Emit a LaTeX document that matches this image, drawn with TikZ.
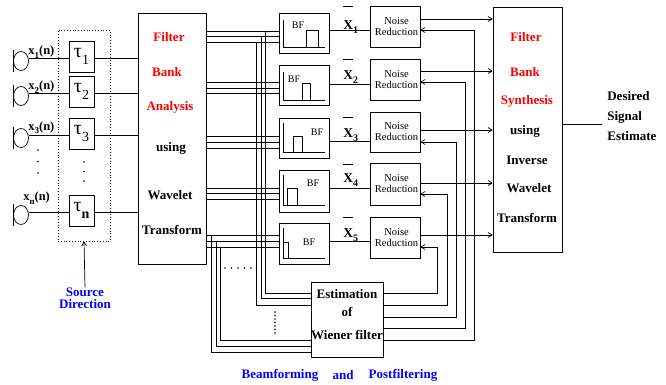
\documentclass[tikz,border=0pt]{standalone}
\usepackage{fontspec}
\setmainfont{Liberation Serif}
\usetikzlibrary{arrows.meta,shapes.geometric}
\definecolor{fred}{RGB}{255,0,0}
\definecolor{fblue}{RGB}{0,0,255}
\newcommand\tauT[1]{{\fontsize{20}{20}\selectfont τ}\raisebox{-7pt}{\fontsize{14}{14}\selectfont #1}}
\newcommand\xlab[1]{\textbf{x}\raisebox{-4pt}{\fontsize{9}{9}\selectfont\bfseries #1}\textbf{(n)}}
\newcommand\xbar[1]{\textbf{X}\raisebox{-4pt}{\fontsize{10}{10}\selectfont\bfseries #1}}
\begin{document}
\begin{tikzpicture}[x=1pt,y=-1pt,line width=0.7pt,
  box/.style={draw,rectangle,inner sep=0pt},
  bt/.style={font=\fontsize{13}{14}\selectfont\bfseries,inner sep=0pt},
  lt/.style={font=\fontsize{12.5}{13}\selectfont,inner sep=0pt},
  rt/.style={font=\fontsize{10.5}{11}\selectfont,inner sep=0pt,align=center},
  bft/.style={font=\fontsize{10}{10}\selectfont,inner sep=0pt},
  xt/.style={font=\fontsize{13.5}{13}\selectfont,inner sep=0pt},
  arr/.style={-{Straight Barb[length=4pt,width=5pt]}},
  dotc/.style={fill,circle,inner sep=0pt,minimum size=1.8pt},
  mic/.style={draw,ellipse,inner sep=0pt,minimum width=15pt,minimum height=19pt}]
\useasboundingbox (0,0) rectangle (666,385);

% ---------- main boxes ----------
\node[box,minimum width=68pt,minimum height=251pt] (ana) at (172,138.5) {};
\node[box,minimum width=69pt,minimum height=245pt] (syn) at (527.5,129.5) {};
\node[box,minimum width=72pt,minimum height=75pt] (wie) at (347,319.5) {};
\node[draw,dotted,line width=0.8pt,rectangle,inner sep=0pt,minimum width=52pt,minimum height=211pt] (db) at (84,135.5) {};

% analysis text
\node[bt,text=fred] (a1) at (169,37) {Filter};
\node[bt,text=fred] (a2) at (167,72) {Bank};
\node[bt,text=fred] (a3) at (170,107) {Analysis};
\node[bt] (a4) at (171,148) {using};
\node[bt] (a5) at (170,195) {Wavelet};
\node[bt] (a6) at (172,230) {Transform};

% synthesis text
\node[bt,text=fred] (s1) at (526,37) {Filter};
\node[bt,text=fred] (s2) at (525,72) {Bank};
\node[bt,text=fred] (s3) at (527,101) {Synthesis};
\node[bt] (s4) at (525,131) {using};
\node[bt] (s5) at (527,160) {Inverse};
\node[bt] (s6) at (529,188) {Wavelet};
\node[bt] (s7) at (527,218) {Transform};

% wiener text
\node[bt] (w1) at (347,294) {Estimation};
\node[bt] (w2) at (347,312) {of};
\node[bt] (w3) at (347,335) {Wiener filter};

% ---------- microphones, delays ----------
\foreach \i/\y/\t in {1/58/1,2/93/2,3/135/3,n/212/\textbf{n}}{
  \node[mic] (m\i) at (21,\y+3) {};
  \draw ([yshift=11pt]m\i.west) -- ([yshift=-11pt]m\i.west);
  \node[box,minimum width=25pt,minimum height=31pt] (t\i) at (81.5,\y-1.5) {\tauT{\t}};
  \draw (m\i.east |- 0,\y) -- (t\i.west |- 0,\y);
  \draw (t\i.east |- 0,\y) -- (ana.west |- 0,\y);
}
\node[lt,anchor=base west] (x1) at (28,55) {\xlab{1}};
\node[lt,anchor=base west] (x2) at (28,90) {\xlab{2}};
\node[lt,anchor=base west] (x3) at (28,130) {\xlab{3}};
\node[lt,anchor=base west] (xn) at (23,200) {\xlab{n}};
\foreach \y in {150,161.5,173} \node[dotc] at (38,\y) {};
\foreach \y in {162,171.5,181} \node[dotc] at (84,\y) {};

% source direction
\node[bt,text=fblue,align=center,font=\fontsize{13}{12}\selectfont\bfseries] (sd) at (85,298) {Source\\Direction};
\draw[arr] (sd.north) -- (db.south);

% ---------- beamformers ----------
\node[box,minimum width=50pt,minimum height=40pt] (bf1) at (304,33) {};
\node[box,minimum width=50pt,minimum height=40pt] (bf2) at (304,85) {};
\node[box,minimum width=50pt,minimum height=40pt] (bf3) at (304,138) {};
\node[box,minimum width=50pt,minimum height=42pt] (bf4) at (304,191) {};
\node[box,minimum width=50pt,minimum height=41pt] (bf5) at (304,243.5) {};
% axes and pulses
\draw (283,20) |- (325,47);  \draw (306,47) |- (318,30) -- (318,47);
\draw (283,72) |- (325,100); \draw (302,100) |- (310,83) -- (310,100);
\draw (283,123) |- (325,152); \draw (293,152) |- (302,136) -- (302,152);
\draw (283,175) |- (325,205); \draw (287,205) |- (297,188) -- (297,205);
\draw (283,228) |- (325,258); \draw (283,242) -- (288,242) -- (288,258);
\node[bft] (b1) at (298,25) {BF};
\node[bft] (b2) at (294,79) {BF};
\node[bft] (b3) at (317,132) {BF};
\node[bft] (b4) at (313,183) {BF};
\node[bft] (b5) at (309,242) {BF};

% ---------- noise reduction ----------
\node[box,minimum width=50pt,minimum height=41pt] (nr1) at (395,26.5) {};
\node[box,minimum width=50pt,minimum height=41pt] (nr2) at (395,79.5) {};
\node[box,minimum width=50pt,minimum height=40pt] (nr3) at (395,132) {};
\node[box,minimum width=50pt,minimum height=42pt] (nr4) at (395,184) {};
\node[box,minimum width=50pt,minimum height=41pt] (nr5) at (395,237.5) {};
\foreach \i in {1,...,5} \node[rt] (nrt\i) at ([xshift=1.5pt]nr\i.center) {Noise\\Reduction};

% bus from analysis to beamformers
\foreach \i/\a/\b/\c in {1/31/36/42,2/82/88/93,3/136/142/148,4/188/193/199,5/235/241/247}{
  \foreach \y in {\a,\b,\c} \draw (ana.east |- 0,\y) -- (bf\i.west |- 0,\y);
}
% branches to the Wiener estimator
\coordinate (v1) at (265,31);  \draw (v1) |- (wie.west |- 0,293);
\coordinate (v2) at (261,36);  \draw (v2) |- (wie.west |- 0,298);
\coordinate (v3) at (256,42);  \draw (v3) |- (wie.west |- 0,305);
\coordinate (v4) at (220,247); \draw (v4) |- (wie.west |- 0,340);
\coordinate (v5) at (216,241); \draw (v5) |- (wie.west |- 0,346);
\coordinate (v6) at (211,235); \draw (v6) |- (wie.west |- 0,352);
\foreach \x in {225,231.5,238,244.5,251} \node[dotc] at (\x,268) {};
\foreach \y in {312,315.5,319,322.5,326,329.5,333} \node[dotc] at (275,\y) {};

% beamformer outputs
\foreach \i/\y/\by in {1/30/6,2/84/59,3/141/117,4/188/164,5/241/217}{
  \draw (bf\i.east |- 0,\y) -- (nr\i.west |- 0,\y);
  \draw (343,\by) -- (353,\by);
}
\node[xt,anchor=base west] (X1) at (343,30) {\xbar{1}};
\node[xt,anchor=base west] (X2) at (343,80) {\xbar{2}};
\node[xt,anchor=base west] (X3) at (343,137) {\xbar{3}};
\node[xt,anchor=base west] (X4) at (343,182) {\xbar{4}};
\node[xt,anchor=base west] (X5) at (343,237) {\xbar{5}};

% noise reduction outputs to synthesis
\foreach \i/\y in {1/19,2/71,3/130,4/183,5/235}
  \draw[arr] (nr\i.east |- 0,\y) -- (syn.west |- 0,\y);

% Wiener feedback to noise reduction
\draw[arr] (wie.east |- 0,340) -| (474,30) -- (nr1.east |- 0,30);
\draw[arr] (wie.east |- 0,328) -| (465,82) -- (nr2.east |- 0,82);
\draw[arr] (wie.east |- 0,317) -| (456,142) -- (nr3.east |- 0,142);
\draw[arr] (wie.east |- 0,305) -| (447,194) -- (nr4.east |- 0,194);
\draw[arr] (wie.east |- 0,293) -| (437,247) -- (nr5.east |- 0,247);

% output
\coordinate (oe) at (602,124);
\draw (syn.east |- oe) -- (oe);
\node[bt,anchor=north west,align=left,font=\fontsize{13}{20}\selectfont\bfseries] (des) at (607,91) {Desired\\Signal\\Estimate};

% bottom caption
\node[bt,text=fblue] (c1) at (280,375) {Beamforming};
\node[bt,text=fblue] (c2) at (343,375) {and};
\node[bt,text=fblue] (c3) at (403,375) {Postfiltering};
\end{tikzpicture}
\end{document}
